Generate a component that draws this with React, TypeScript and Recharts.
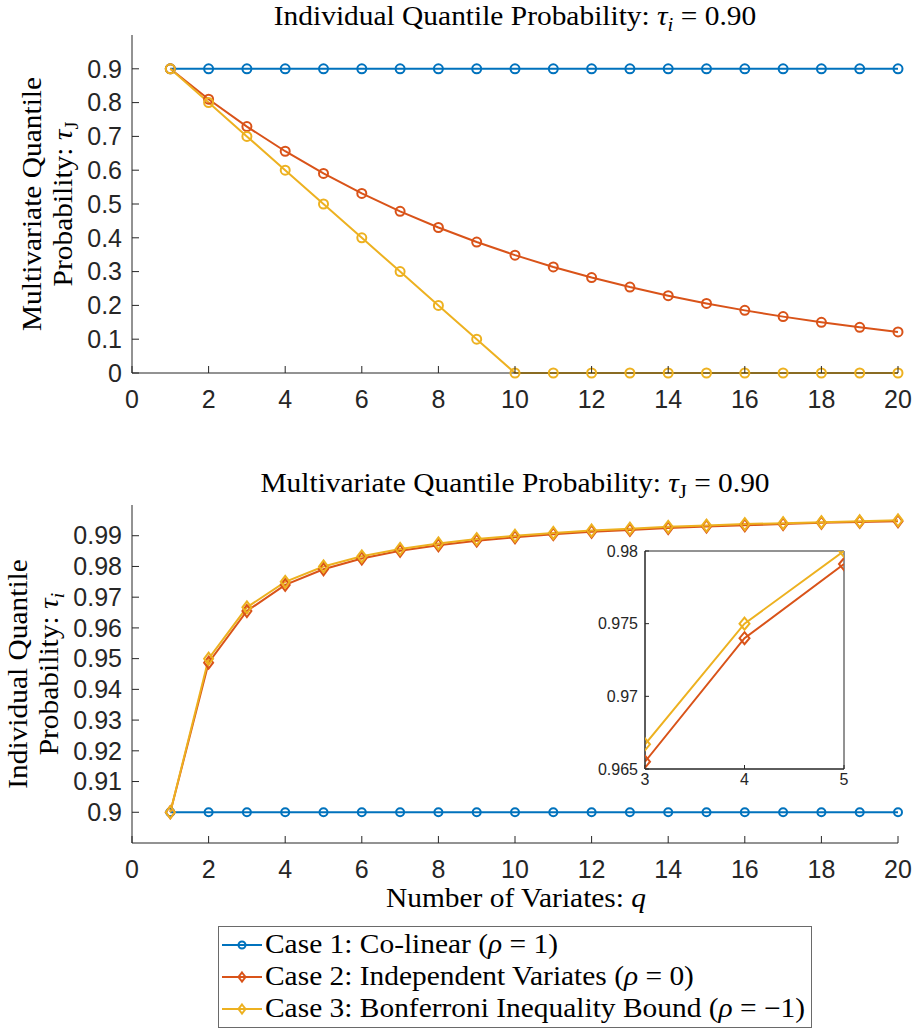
import React from 'react';
import { LineChart, Line, XAxis, YAxis, CartesianGrid } from 'recharts';

// number of variates
const qValues = [1, 2, 3, 4, 5, 6, 7, 8, 9, 10, 11, 12, 13, 14, 15, 16, 17, 18, 19, 20];

// top panel: tau_J for tau_i = 0.90
const topCase1 = [0.9, 0.9, 0.9, 0.9, 0.9, 0.9, 0.9, 0.9, 0.9, 0.9, 0.9, 0.9, 0.9, 0.9, 0.9, 0.9, 0.9, 0.9, 0.9, 0.9];
const topCase2 = [0.9, 0.81, 0.729, 0.6561, 0.5905, 0.5314, 0.4783, 0.4305, 0.3874, 0.3487, 0.3138, 0.2824, 0.2542, 0.2288, 0.2059, 0.1853, 0.1668, 0.1501, 0.1351, 0.1216];
const topCase3 = [0.9, 0.8, 0.7, 0.6, 0.5, 0.4, 0.3, 0.2, 0.1, 0, 0, 0, 0, 0, 0, 0, 0, 0, 0, 0];

// bottom panel: tau_i for tau_J = 0.90
const botCase1 = [0.9, 0.9, 0.9, 0.9, 0.9, 0.9, 0.9, 0.9, 0.9, 0.9, 0.9, 0.9, 0.9, 0.9, 0.9, 0.9, 0.9, 0.9, 0.9, 0.9];
const botCase2 = [0.9, 0.9487, 0.9655, 0.974, 0.9791, 0.9826, 0.9851, 0.9869, 0.9884, 0.9895, 0.9905, 0.9913, 0.9919, 0.9925, 0.993, 0.9934, 0.9938, 0.9942, 0.9945, 0.9947];
const botCase3 = [0.9, 0.95, 0.9667, 0.975, 0.98, 0.9833, 0.9857, 0.9875, 0.9889, 0.99, 0.9909, 0.9917, 0.9923, 0.9929, 0.9933, 0.9938, 0.9941, 0.9944, 0.9947, 0.995];

const xTicks = [0, 2, 4, 6, 8, 10, 12, 14, 16, 18, 20];
const topYTicks = [0, 0.1, 0.2, 0.3, 0.4, 0.5, 0.6, 0.7, 0.8, 0.9];
const botYTicks = [0.9, 0.91, 0.92, 0.93, 0.94, 0.95, 0.96, 0.97, 0.98, 0.99];
const insetXTicks = [3, 4, 5];
const insetYTicks = [0.965, 0.97, 0.975, 0.98];

const BLUE = '#0072BD';
const RED = '#D95319';
const YEL = '#EDB120';
const AX = '#262626';
const SANS = "'Liberation Sans', Arial, Helvetica, sans-serif";
const SERIF = "'Liberation Serif', 'Times New Roman', serif";

const topData = qValues.map((q, i) => ({ q, c1: topCase1[i], c2: topCase2[i], c3: topCase3[i] }));
const botData = qValues.map((q, i) => ({ q, c1: botCase1[i], c2: botCase2[i], c3: botCase3[i] }));
const insetData = botData.slice(2, 5);

// inward MATLAB-style ticks
const bottomTick = (len: number, off: number, size: number) => (p: any) => (
  <g key={`bt-${p.index}`}>
    <line x1={p.x} y1={p.y} x2={p.x} y2={p.y - len} stroke={AX} strokeWidth={1} />
    <text x={p.x} y={p.y + off} dy="0.35em" textAnchor="middle" fontFamily={SANS} fontSize={size} fill={AX}>
      {p.payload.value}
    </text>
  </g>
);

const leftTick = (len: number, off: number, size: number) => (p: any) => (
  <g key={`lt-${p.index}`}>
    <line x1={p.x} y1={p.y} x2={p.x + len} y2={p.y} stroke={AX} strokeWidth={1} />
    <text x={p.x - off} y={p.y} dy="0.35em" textAnchor="end" fontFamily={SANS} fontSize={size} fill={AX}>
      {p.payload.value}
    </text>
  </g>
);

const topTick = (len: number) => (p: any) => (
  <line key={`tt-${p.index}`} x1={p.x} y1={p.y} x2={p.x} y2={p.y + len} stroke={AX} strokeWidth={1} />
);

const rightTick = (len: number) => (p: any) => (
  <line key={`rt-${p.index}`} x1={p.x} y1={p.y} x2={p.x - len} y2={p.y} stroke={AX} strokeWidth={1} />
);

const diamond = (color: string, w: number, h: number) => (p: any) => (
  <path
    key={`d-${p.index}`}
    d={`M${p.cx},${p.cy - h}L${p.cx + w},${p.cy}L${p.cx},${p.cy + h}L${p.cx - w},${p.cy}Z`}
    fill="none"
    stroke={color}
    strokeWidth={2}
  />
);

const circle = (color: string, r: number) => ({ r, fill: 'none', stroke: color, strokeWidth: 2 });

function Tex({ x, y, rotate = 0, anchor = 'middle', size = 27, children }: any) {
  return (
    <g transform={`translate(${x},${y}) rotate(${rotate}) scale(1.09,1)`}>
      <text textAnchor={anchor} fontFamily={SERIF} fontSize={size} fill="#000">
        {children}
      </text>
    </g>
  );
}

const legendRows = [
  { color: BLUE, marker: 'o', label: 'Case 1: Co-linear (', rho: ' = 1)' },
  { color: RED, marker: 'd', label: 'Case 2: Independent Variates (', rho: ' = 0)' },
  { color: YEL, marker: 'd', label: 'Case 3: Bonferroni Inequality Bound (', rho: ' = \u22121)' },
];

function TopChart() {
  return (
    <LineChart width={916} height={440} data={topData} margin={{ top: 35, right: 18, bottom: 20, left: 0 }}>
      <XAxis
        dataKey="q"
        type="number"
        domain={[0, 20]}
        ticks={xTicks}
        height={47}
        tickSize={0}
        tickMargin={0}
        tick={bottomTick(7, 26, 25)}
        axisLine={{ stroke: AX }}
        tickLine={false}
      />
      <YAxis
        type="number"
        domain={[0, 1]}
        ticks={topYTicks}
        width={132}
        tickSize={0}
        tickMargin={0}
        tick={leftTick(7, 10, 25)}
        axisLine={{ stroke: AX }}
        tickLine={false}
      />
      <Line type="linear" dataKey="c1" stroke={BLUE} strokeWidth={2} dot={circle(BLUE, 4.5)} isAnimationActive={false} />
      <Line type="linear" dataKey="c2" stroke={RED} strokeWidth={2} dot={circle(RED, 4.5)} isAnimationActive={false} />
      <Line type="linear" dataKey="c3" stroke={YEL} strokeWidth={2} dot={circle(YEL, 4.5)} isAnimationActive={false} />
    </LineChart>
  );
}

function BottomChart() {
  return (
    <LineChart width={916} height={480} data={botData} margin={{ top: 65, right: 18, bottom: 40, left: 0 }}>
      <XAxis
        dataKey="q"
        type="number"
        domain={[0, 20]}
        ticks={xTicks}
        height={37}
        tickSize={0}
        tickMargin={0}
        tick={bottomTick(7, 26, 25)}
        axisLine={{ stroke: AX }}
        tickLine={false}
      />
      <YAxis
        type="number"
        domain={[0.89, 1]}
        ticks={botYTicks}
        width={132}
        tickSize={0}
        tickMargin={0}
        tick={leftTick(7, 10, 25)}
        axisLine={{ stroke: AX }}
        tickLine={false}
        allowDataOverflow
      />
      <Line type="linear" dataKey="c1" stroke={BLUE} strokeWidth={2} dot={circle(BLUE, 4)} isAnimationActive={false} />
      <Line type="linear" dataKey="c2" stroke={RED} strokeWidth={2} dot={diamond(RED, 4.5, 6)} isAnimationActive={false} />
      <Line type="linear" dataKey="c3" stroke={YEL} strokeWidth={2} dot={diamond(YEL, 4.5, 6)} isAnimationActive={false} />
    </LineChart>
  );
}

function InsetChart() {
  return (
    <LineChart width={290} height={270} data={insetData} margin={{ top: 21, right: 26, bottom: 0, left: 0 }}>
      <CartesianGrid
        fill="#fff"
        stroke={AX}
        horizontalCoordinatesGenerator={({ offset }: any) => [offset.top, offset.top + offset.height]}
        verticalCoordinatesGenerator={({ offset }: any) => [offset.left, offset.left + offset.width]}
      />
      <XAxis
        dataKey="q"
        type="number"
        domain={[3, 5]}
        ticks={insetXTicks}
        height={31}
        tickSize={0}
        tickMargin={0}
        tick={bottomTick(4, 10, 16)}
        axisLine={{ stroke: AX }}
        tickLine={false}
        allowDataOverflow
      />
      <XAxis
        xAxisId="top"
        dataKey="q"
        orientation="top"
        type="number"
        domain={[3, 5]}
        ticks={insetXTicks}
        height={0}
        tickSize={0}
        tickMargin={0}
        tick={topTick(4)}
        axisLine={{ stroke: AX }}
        tickLine={false}
        allowDataOverflow
      />
      <YAxis
        type="number"
        domain={[0.965, 0.98]}
        ticks={insetYTicks}
        width={65}
        tickSize={0}
        tickMargin={0}
        tick={leftTick(4, 7, 16)}
        axisLine={{ stroke: AX }}
        tickLine={false}
        allowDataOverflow
      />
      <YAxis
        yAxisId="right"
        orientation="right"
        type="number"
        domain={[0.965, 0.98]}
        ticks={insetYTicks}
        width={0}
        tickSize={0}
        tickMargin={0}
        tick={rightTick(4)}
        axisLine={{ stroke: AX }}
        tickLine={false}
        allowDataOverflow
      />
      <Line type="linear" dataKey="c2" stroke={RED} strokeWidth={2} dot={diamond(RED, 5, 6)} isAnimationActive={false} />
      <Line
        type="linear"
        dataKey="c3"
        xAxisId="top"
        yAxisId="right"
        stroke={YEL}
        strokeWidth={2}
        dot={diamond(YEL, 5, 6)}
        isAnimationActive={false}
      />
    </LineChart>
  );
}

function Labels() {
  return (
    <svg width={916} height={1032} style={{ position: 'absolute', left: 0, top: 0, pointerEvents: 'none' }}>
      <Tex x={515} y={24.5}>
        Individual Quantile Probability: <tspan fontStyle="italic">τ</tspan>
        <tspan dy={6} fontSize={19} fontStyle="italic">i</tspan>
        <tspan dy={-6}> = 0.90</tspan>
      </Tex>
      <Tex x={41} y={204} rotate={-90}>Multivariate Quantile</Tex>
      <Tex x={72} y={204} rotate={-90}>
        Probability: <tspan fontStyle="italic">τ</tspan>
        <tspan dy={6} fontSize={19}>J</tspan>
      </Tex>

      <Tex x={515} y={492}>
        Multivariate Quantile Probability: <tspan fontStyle="italic">τ</tspan>
        <tspan dy={6} fontSize={19}>J</tspan>
        <tspan dy={-6}> = 0.90</tspan>
      </Tex>
      <Tex x={27} y={674} rotate={-90}>Individual Quantile</Tex>
      <Tex x={58} y={674} rotate={-90}>
        Probability: <tspan fontStyle="italic">τ</tspan>
        <tspan dy={6} fontSize={19} fontStyle="italic">i</tspan>
      </Tex>
      <Tex x={516} y={907}>
        Number of Variates: <tspan fontStyle="italic">q</tspan>
      </Tex>

      <rect x={218.5} y={926.5} width={593} height={101} fill="#fff" stroke="#6a6a6a" strokeWidth={1} />
      {legendRows.map((row, i) => {
        const cy = 945 + i * 32;
        return (
          <g key={row.label}>
            <line x1={222} y1={cy} x2={262} y2={cy} stroke={row.color} strokeWidth={2} />
            {row.marker === 'o' ? (
              <circle cx={242} cy={cy} r={3.5} fill="none" stroke={row.color} strokeWidth={2} />
            ) : (
              <path d={`M242,${cy - 4.5}L245.5,${cy}L242,${cy + 4.5}L238.5,${cy}Z`} fill="none" stroke={row.color} strokeWidth={2} />
            )}
            <Tex x={265} y={cy + 8} anchor="start">
              {row.label}
              <tspan fontStyle="italic">ρ</tspan>
              {row.rho}
            </Tex>
          </g>
        );
      })}
    </svg>
  );
}

export default function App() {
  return (
    <div style={{ position: 'absolute', left: 0, top: 0, width: 916, height: 1032, background: '#fff' }}>
      <div style={{ position: 'absolute', left: 0, top: 0 }}>
        <TopChart />
      </div>
      <div style={{ position: 'absolute', left: 0, top: 440 }}>
        <BottomChart />
      </div>
      <div style={{ position: 'absolute', left: 580, top: 530 }}>
        <InsetChart />
      </div>
      <Labels />
    </div>
  );
}
